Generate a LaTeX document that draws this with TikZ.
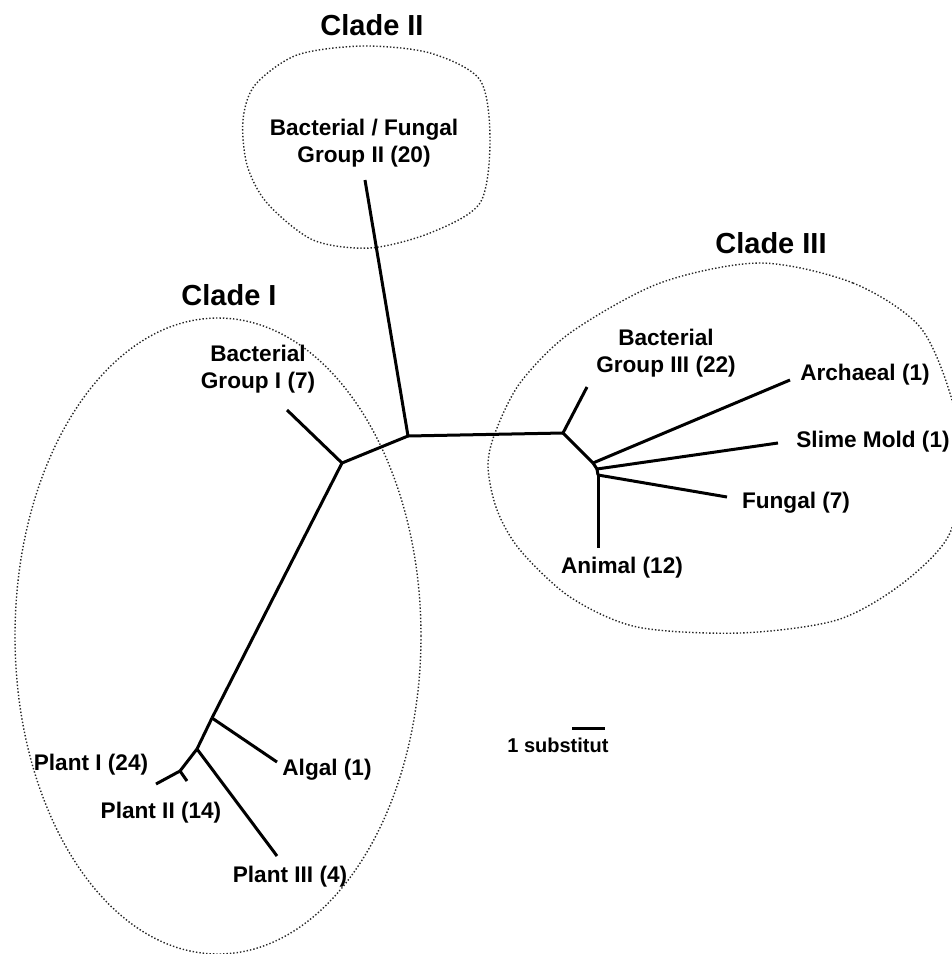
\documentclass[tikz,border=0pt]{standalone}
\usepackage{fontspec}
\setmainfont{Liberation Sans}
\usetikzlibrary{arrows}
\pgfdeclarelayer{nodelayer}
\pgfdeclarelayer{edgelayer}
\pgfsetlayers{edgelayer,nodelayer,main}
\tikzstyle{none}=[fill=none, draw=none, shape=circle, scale=0]
\tikzstyle{leaf label}=[fill=none, draw=none, inner sep=0pt, align=center, font=\fontsize{11.3}{13.5}\selectfont\bfseries]
\tikzstyle{clade label}=[fill=none, draw=none, inner sep=0pt, font=\fontsize{14.5}{17}\selectfont\bfseries]
\tikzstyle{scale label}=[fill=none, draw=none, inner sep=0pt, anchor=west, font=\fontsize{10}{12}\selectfont\bfseries]
\tikzstyle{branch}=[draw=black, line width=1.5pt]
\tikzstyle{clade outline}=[draw=black!85, densely dotted, line width=0.7pt]

\begin{document}
\begin{tikzpicture}[x=0.5pt, y=-0.5pt]
	\useasboundingbox (0, 0) rectangle (952, 954);
	\begin{pgfonlayer}{nodelayer}
		\node [style=none] (0) at (408, 436) {};
		\node [style=none] (1) at (342, 463) {};
		\node [style=none] (2) at (563, 433) {};
		\node [style=none] (3) at (593, 463) {};
		\node [style=none] (4) at (597, 469) {};
		\node [style=none] (5) at (598, 475) {};
		\node [style=none] (6) at (365, 180) {};
		\node [style=none] (7) at (287, 410) {};
		\node [style=none] (8) at (587, 387) {};
		\node [style=none] (9) at (790, 380) {};
		\node [style=none] (10) at (778, 443) {};
		\node [style=none] (11) at (727, 497) {};
		\node [style=none] (12) at (598, 548) {};
		\node [style=none] (13) at (212, 718) {};
		\node [style=none] (14) at (277, 762) {};
		\node [style=none] (15) at (197, 749) {};
		\node [style=none] (16) at (277, 856) {};
		\node [style=none] (17) at (180, 771) {};
		\node [style=none] (18) at (156, 784) {};
		\node [style=none] (19) at (187, 781) {};
		\node [style=none] (20) at (572, 728) {};
		\node [style=none] (21) at (605, 728) {};
		\node [style=clade label] (22) at (229, 295) {Clade I};
		\node [style=clade label] (23) at (372, 25) {Clade II};
		\node [style=clade label] (24) at (771, 243) {Clade III};
		\node [style=leaf label] (25) at (364, 143) {Bacterial / Fungal\\Group II (20)};
		\node [style=leaf label] (26) at (258, 369) {Bacterial\\Group I (7)};
		\node [style=leaf label] (27) at (666, 353) {Bacterial\\Group III (22)};
		\node [style=leaf label] (28) at (865, 375) {Archaeal (1)};
		\node [style=leaf label] (29) at (873, 442) {Slime Mold (1)};
		\node [style=leaf label] (30) at (796, 503) {Fungal (7)};
		\node [style=leaf label] (31) at (622, 568) {Animal (12)};
		\node [style=leaf label] (32) at (327, 770) {Algal (1)};
		\node [style=leaf label] (33) at (91, 765) {Plant I (24)};
		\node [style=leaf label] (34) at (161, 813) {Plant II (14)};
		\node [style=leaf label] (35) at (290, 877) {Plant III (4)};
		\node [style=scale label] (36) at (507, 745) {1 substitut};
	\end{pgfonlayer}
	\begin{pgfonlayer}{edgelayer}
		\draw [style=clade outline] (218, 636) ellipse [x radius=101.5pt, y radius=159pt];
		\draw [style=clade outline] plot [smooth cycle] coordinates {(363, 46) (430, 53) (480, 80) (490, 140) (480, 203) (430, 233) (370, 248) (313, 240) (267, 203) (247, 165) (243, 120) (255, 85) (297, 55)};
		\draw [style=clade outline] plot [smooth cycle] coordinates {(760, 263) (853, 283) (920, 327) (952, 400) (958, 460) (950, 533) (903, 583) (837, 620) (740, 633) (637, 627) (570, 597) (520, 550) (497, 510) (488, 467) (495, 433) (520, 383) (570, 333) (660, 283)};
		\draw [style=branch] (6.center) to (0.center);
		\draw [style=branch] (0.center) to (1.center);
		\draw [style=branch] (0.center) to (2.center);
		\draw [style=branch] (1.center) to (7.center);
		\draw [style=branch] (1.center) to (13.center);
		\draw [style=branch] (13.center) to (14.center);
		\draw [style=branch] (13.center) to (15.center);
		\draw [style=branch] (15.center) to (16.center);
		\draw [style=branch] (15.center) to (17.center);
		\draw [style=branch] (17.center) to (18.center);
		\draw [style=branch] (17.center) to (19.center);
		\draw [style=branch] (2.center) to (8.center);
		\draw [style=branch] (2.center) to (3.center);
		\draw [style=branch] (3.center) to (4.center);
		\draw [style=branch] (4.center) to (5.center);
		\draw [style=branch] (5.center) to (12.center);
		\draw [style=branch] (3.center) to (9.center);
		\draw [style=branch] (4.center) to (10.center);
		\draw [style=branch] (5.center) to (11.center);
		\draw [style=branch] (20.center) to (21.center);
	\end{pgfonlayer}
\end{tikzpicture}
\end{document}
